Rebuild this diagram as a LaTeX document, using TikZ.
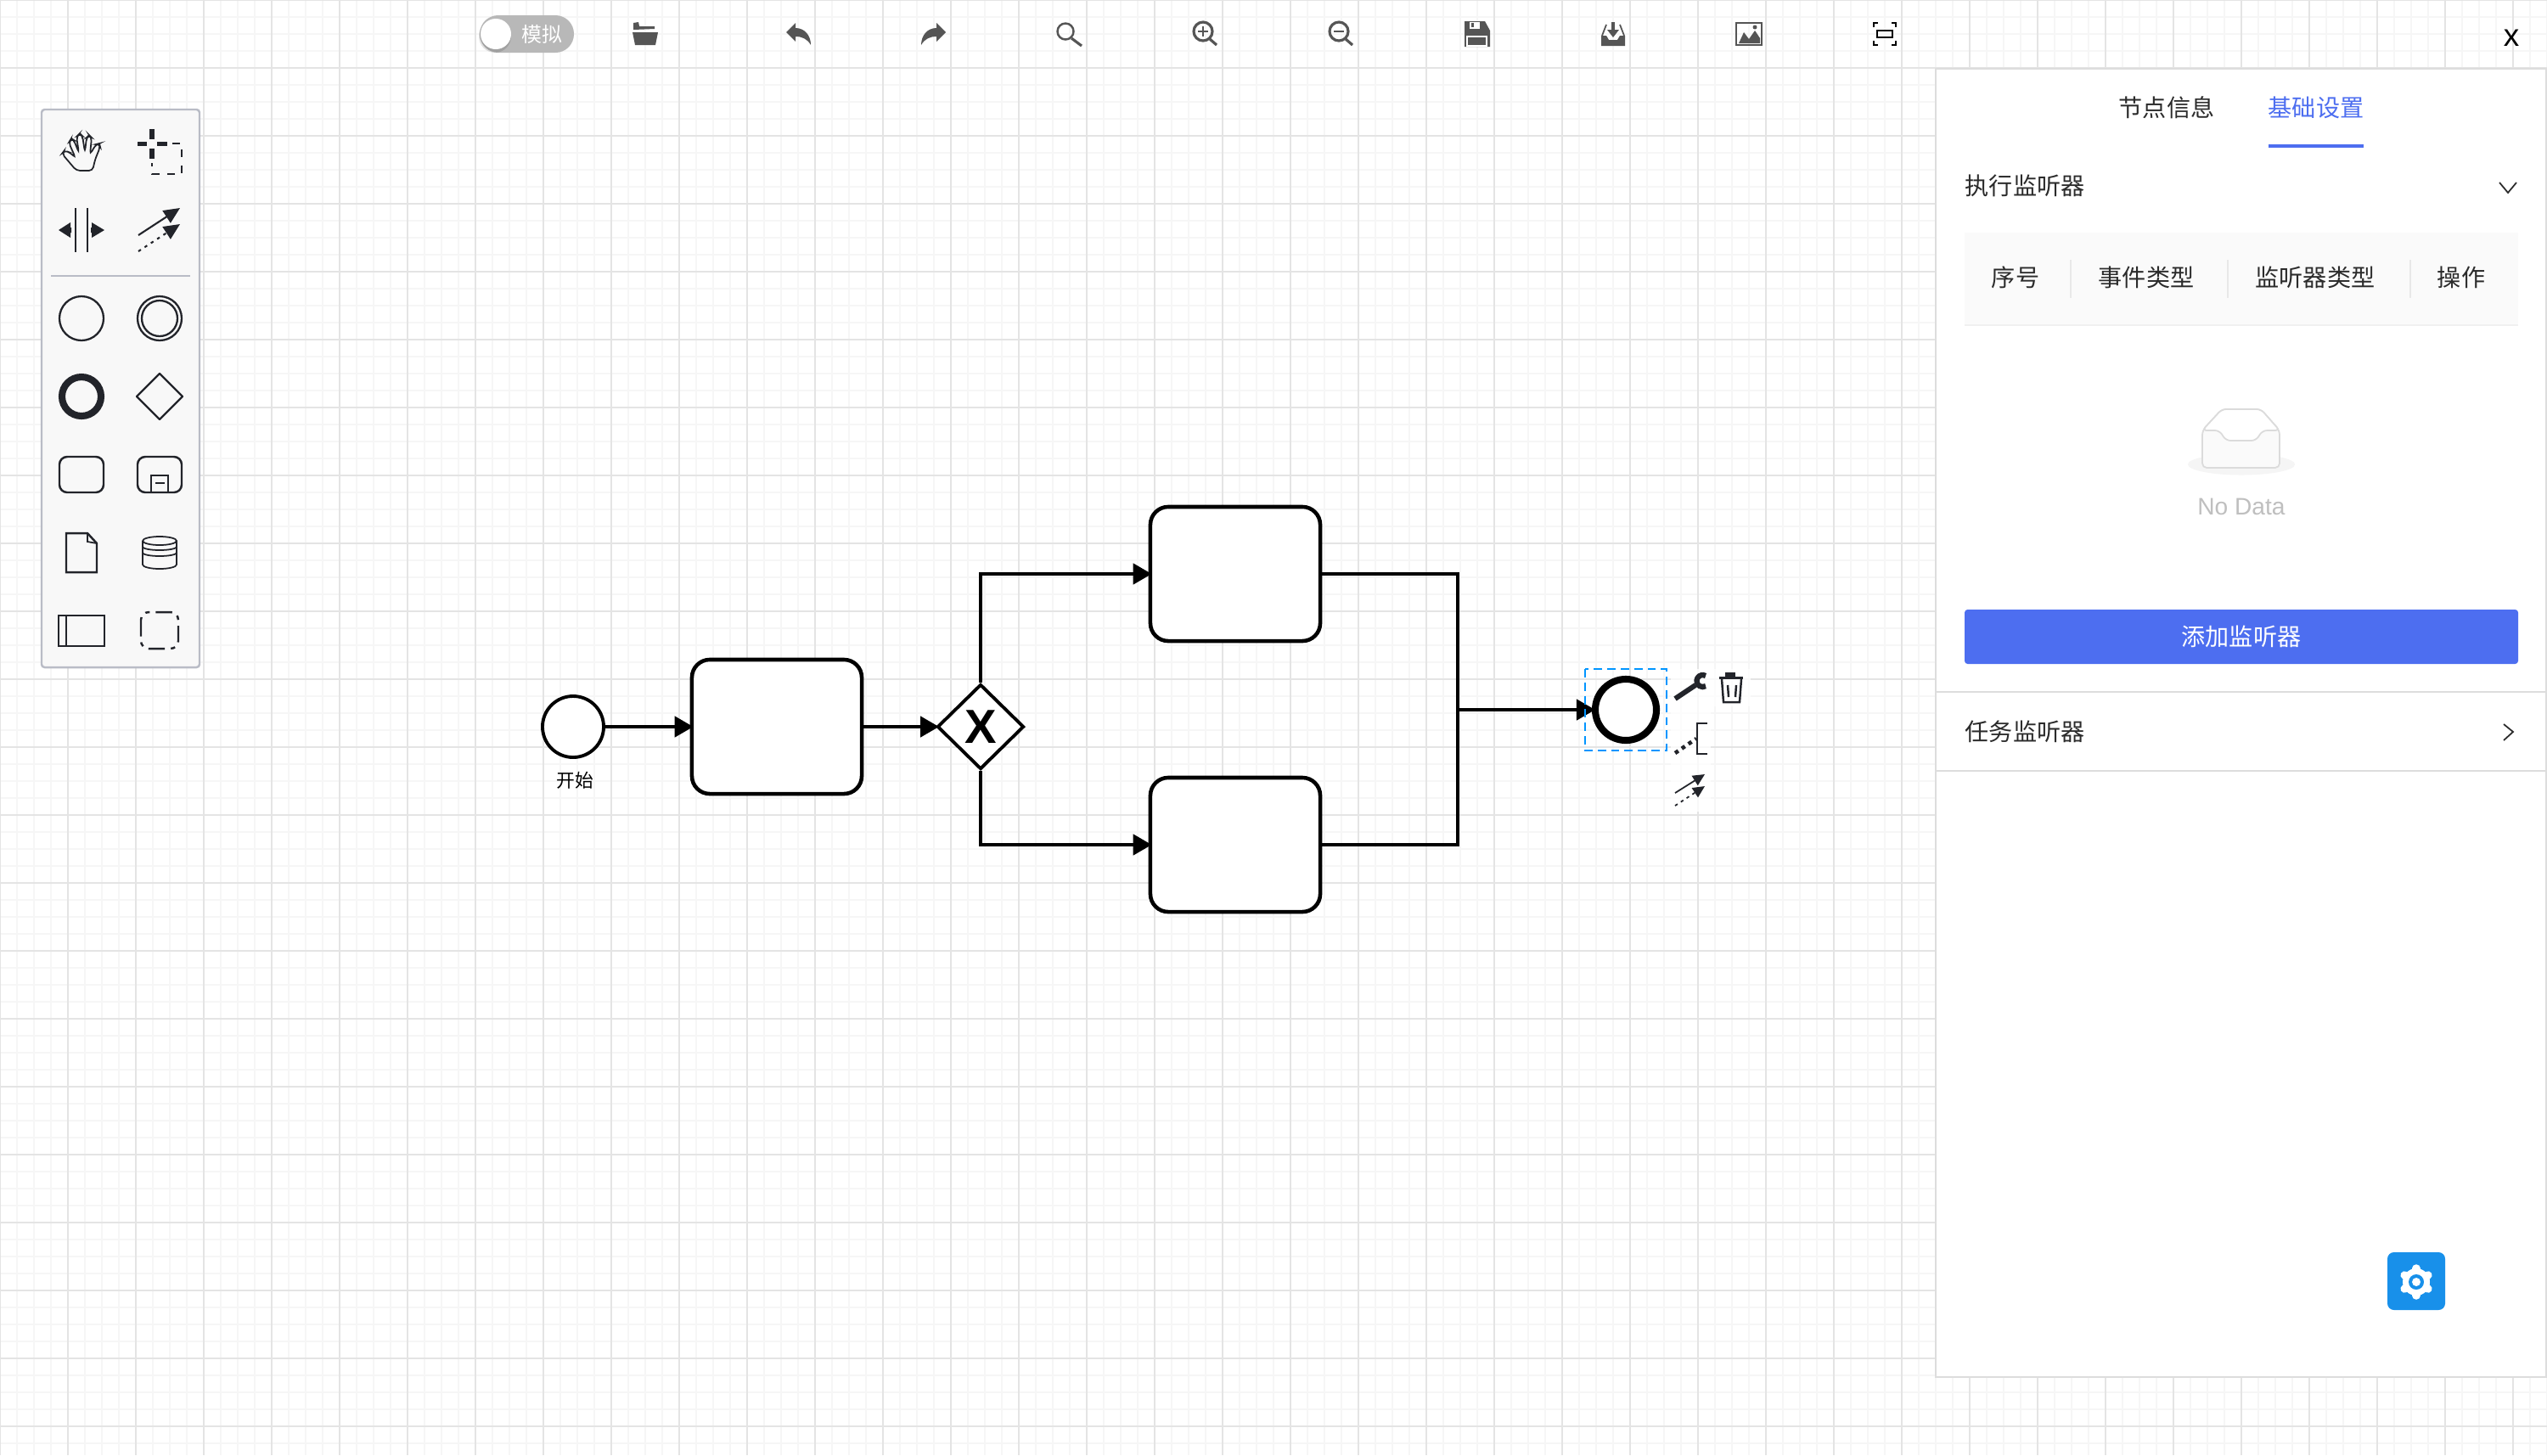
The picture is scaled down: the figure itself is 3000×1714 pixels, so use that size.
\documentclass[tikz,border=0pt]{standalone}
\usepackage{fontspec}
\setmainfont{Liberation Sans}
\newfontfamily\cjk{Noto Sans CJK SC}
\usetikzlibrary{arrows.meta,shapes.geometric}

\definecolor{gridminor}{HTML}{F6F6F6}
\definecolor{gridmajor}{HTML}{E4E4E4}
\definecolor{panelline}{HTML}{DDDDDD}
\definecolor{palettefill}{HTML}{F8F8F8}
\definecolor{paletteline}{HTML}{B9BCC6}
\definecolor{ink}{HTML}{22242A}
\definecolor{toolgrey}{HTML}{555555}
\definecolor{accent}{HTML}{4D6EF0}
\definecolor{gearblue}{HTML}{1890EA}
\definecolor{selectblue}{HTML}{0095FF}
\definecolor{textdark}{HTML}{2B2B2B}

\tikzset{
    task/.style={draw=black,fill=white,line width=1.3pt,rounded corners=6pt,minimum width=2cm,minimum height=1.58cm,inner sep=0pt},
    startevent/.style={circle,draw=black,fill=white,line width=1.1pt,minimum size=.72cm,inner sep=0pt},
    endevent/.style={circle,draw=black,fill=white,line width=2.3pt,minimum size=.72cm,inner sep=0pt},
    gateway/.style={diamond,draw=black,fill=white,line width=1.1pt,minimum width=1.02cm,minimum height=1cm,inner sep=0pt},
    flow/.style={draw=black,line width=1.3pt,shorten >=-.4mm,-{Triangle[length=2.2mm,width=2.4mm]}},
    plainflow/.style={draw=black,line width=1.3pt},
    cnlabel/.style={font=\cjk\fontsize{8}{10}\selectfont,text=textdark,inner sep=0pt},
    icon/.style={draw=ink,line width=.65pt},
    tool/.style={fill=toolgrey},
    toolline/.style={draw=toolgrey,line width=.7pt}
}

\begin{document}
\begin{tikzpicture}[x=.01cm,y=-.01cm]

    \useasboundingbox (0,0) rectangle (3000,1714);
    \fill[white] (0,0) rectangle (3000,1714);

    % these are the grid lines
    \foreach \gx in {0,20,...,3000} \draw[gridminor,line width=.45pt] (\gx,0) -- (\gx,1714);
    \foreach \gy in {0,20,...,1700} \draw[gridminor,line width=.45pt] (0,\gy) -- (3000,\gy);
    \foreach \gx in {0,80,...,3000} \draw[gridmajor,line width=.45pt] (\gx,0) -- (\gx,1714);
    \foreach \gy in {0,80,...,1700} \draw[gridmajor,line width=.45pt] (0,\gy) -- (3000,\gy);

    % these are the top tools
    \fill[white!72!black,rounded corners=6.2pt] (565,18) rectangle (676,62);
    \fill[black,opacity=.12] (583,43) circle (19);
    \fill[white] (584,40) circle (18);
    \node[cnlabel,text=white,font=\cjk\fontsize{6.8}{8}\selectfont] (simlabel) at (638,40) {模拟};

    \fill[tool] (746,35) -- (746,27) -- (752,26) -- (753,31) -- (771,31) -- (771,34) -- cycle;
    \fill[tool] (745,38) -- (775,38) -- (772,53) -- (748,53) -- cycle;

    \fill[tool] (926,38) -- (937,27) -- (937,33) .. controls (948,33) and (955,42) .. (955,53) .. controls (951,46) and (945,43) .. (937,43) -- (937,49) -- cycle;
    \fill[tool] (1114,38) -- (1103,27) -- (1103,33) .. controls (1092,33) and (1085,42) .. (1085,53) .. controls (1089,46) and (1095,43) .. (1103,43) -- (1103,49) -- cycle;

    \draw[toolline] (1255,37) circle (9.5);
    \draw[toolline,line width=.9pt] (1262,45) -- (1274,54);

    \draw[toolline,line width=.9pt] (1417,37) circle (11);
    \draw[toolline,line width=.9pt] (1425,46) -- (1433,53);
    \draw[toolline] (1411,37) -- (1423,37);
    \draw[toolline] (1417,31) -- (1417,43);

    \draw[toolline,line width=.9pt] (1577,37) circle (11);
    \draw[toolline,line width=.9pt] (1585,46) -- (1593,53);
    \draw[toolline] (1571,37) -- (1583,37);

    \fill[tool] (1725,25) -- (1749,25) -- (1755,36) -- (1755,55) -- (1725,55) -- cycle;
    \fill[white] (1731,26) rectangle (1743,34);
    \fill[tool] (1733,27) rectangle (1736,32);
    \draw[white,fill=toolgrey,line width=.5pt] (1728,43) rectangle (1751,54);

    \fill[tool] (1886,42) -- (1892,42) -- (1895,47) -- (1905,47) -- (1908,42) -- (1914,42) -- (1914,54) -- (1886,54) -- cycle;
    \draw[toolline,line width=.5pt] (1892,29) -- (1887,42);
    \draw[toolline,line width=.5pt] (1908,29) -- (1913,42);
    \fill[tool] (1898,26) rectangle (1902,36);
    \fill[tool] (1893,35) -- (1907,35) -- (1900,44) -- cycle;

    \draw[toolline] (2045,27) rectangle (2075,53);
    \fill[tool] (2048,51) -- (2054,38) -- (2060,46) -- (2067,36) -- (2073,45) -- (2073,51) -- cycle;
    \fill[tool] (2067,32) circle (2.5);

    \draw[black,line width=.5pt] (2207,32) -- (2207,27) -- (2212,27);
    \draw[black,line width=.5pt] (2228,27) -- (2233,27) -- (2233,32);
    \draw[black,line width=.5pt] (2207,48) -- (2207,53) -- (2212,53);
    \draw[black,line width=.5pt] (2228,53) -- (2233,53) -- (2233,48);
    \draw[black,line width=.6pt] (2211,36) rectangle (2229,44);

    \node[inner sep=0pt,font=\fontsize{10.5}{12}\selectfont] (closemark) at (2958,45) {x};

    % this is the palette
    \draw[paletteline,fill=palettefill,line width=.7pt,rounded corners=1pt] (49,129) rectangle (235,786);
    \draw[paletteline,line width=.55pt] (60,325) -- (224,325);

    \draw[icon,line width=.5pt,rounded corners=1.2pt] (90,201) -- (73,181) -- (76,177) -- (83,180) -- (89,186) -- (81,168) -- (84,163) -- (87,165) -- (93,180) -- (90,161) -- (94,157) -- (97,160) -- (100,179) -- (102,162) -- (105,159) -- (108,162) -- (106,182) -- (113,170) -- (117,169) -- (118,173) -- (112,188) -- (109,201) -- cycle;

    \fill[ink] (176,152) rectangle (182,164);
    \fill[ink] (176,175) rectangle (182,187);
    \fill[ink] (162,167) rectangle (173,172);
    \fill[ink] (185,167) rectangle (197,172);
    \draw[ink,line width=.75pt,dash pattern=on 2.6pt off 2.6pt] (203,169) -- (214,169) -- (214,205) -- (179,205) -- (179,192);

    \draw[ink,line width=.7pt] (89,245) -- (89,297);
    \draw[ink,line width=.7pt] (103,245) -- (103,297);
    \fill[ink] (69,271) -- (83,262) -- (83,268) -- (84,268) -- (84,274) -- (83,274) -- (83,280) -- cycle;
    \fill[ink] (123,271) -- (108,262) -- (108,268) -- (107,268) -- (107,274) -- (108,274) -- (108,280) -- cycle;

    \coordinate (palsolidstart) at (163,277);
    \coordinate (palsolidend) at (212,245);
    \coordinate (paldotstart) at (163,296);
    \coordinate (paldotend) at (212,264);
    \draw[ink,line width=.6pt,-{Triangle[length=1.9mm,width=1.7mm]}] (palsolidstart) -- (palsolidend);
    \draw[ink,line width=.6pt,dash pattern=on 1pt off 1.5pt,-{Triangle[length=1.9mm,width=1.7mm]}] (paldotstart) -- (paldotend);

    \draw[icon] (96,375) circle (26);
    \draw[icon] (188,375) circle (26);
    \draw[icon] (188,375) circle (21);
    \draw[ink,line width=2.3pt] (96,467) circle (23);
    \draw[icon,line join=round] (161,467) -- (188,440) -- (215,467) -- (188,494) -- cycle;

    \draw[icon,line width=.7pt,rounded corners=2.6pt] (70,538) rectangle (122,580);
    \draw[icon,line width=.7pt,rounded corners=2.6pt] (162,538) rectangle (214,580);
    \draw[icon,line width=.5pt] (178,580) -- (178,560) -- (198,560) -- (198,580);
    \draw[icon,line width=.7pt] (183,569) -- (194,569);

    \draw[icon,line width=.7pt] (78,628) -- (103,628) -- (114,640) -- (114,674) -- (78,674) -- cycle;
    \draw[icon,line width=.5pt] (103,628) -- (103,638) -- (114,640);

    \draw[icon,line width=.5pt] (168,637) arc[start angle=180,end angle=-180,x radius=20,y radius=5];
    \draw[icon,line width=.5pt] (168,637) -- (168,665) arc[start angle=180,end angle=0,x radius=20,y radius=5] -- (208,637);
    \draw[icon,line width=.5pt] (168,644) arc[start angle=180,end angle=0,x radius=20,y radius=4];
    \draw[icon,line width=.5pt] (168,651) arc[start angle=180,end angle=0,x radius=20,y radius=4];

    \draw[icon,line width=.7pt] (69,725) rectangle (123,761);
    \draw[icon,line width=.6pt] (78,725) -- (78,761);

    \draw[icon,line width=.7pt,rounded corners=2.6pt,dash pattern=on 5.5pt off 2pt on 1.5pt off 2pt] (166,721) rectangle (210,764);

    % these are the diagram nodes
    \node[startevent] (startnode) at (675,856) {};
    \node[cnlabel,text=black,font=\cjk\fontsize{6.2}{8}\selectfont] (startlabel) at (677,919) {开始};
    \node[task] (taska) at (915,856) {};
    \node[gateway] (gatenode) at (1155,856) {};
    \node[inner sep=0pt,font=\bfseries\fontsize{16}{18}\selectfont] (gatemark) at (gatenode) {X};
    \node[task] (taskb) at (1455,676) {};
    \node[task] (taskc) at (1455,995) {};
    \node[endevent] (endnode) at (1915,836) {};
    \coordinate (joinpoint) at (1717,836);

    % these are the flows
    \draw[flow] (startnode) -- (taska);
    \draw[flow] (taska) -- (gatenode);
    \draw[flow] (gatenode.north) |- (taskb.west);
    \draw[flow] (gatenode.south) |- (taskc.west);
    \draw[plainflow] (taskb.east) -| (joinpoint);
    \draw[plainflow] (taskc.east) -| (joinpoint);
    \draw[flow] (joinpoint) -- (endnode.west);

    % this is the selection and what hangs on it
    \draw[selectblue,line width=.8pt,dash pattern=on 2.8pt off 1.7pt] (1867,788) rectangle (1963,884);
    \fill[white,opacity=.75] (1968,788) rectangle (2062,832);
    \fill[white,opacity=.75] (1968,832) rectangle (2015,956);

    \draw[ink,line width=1.7pt] (1973,823) -- (1997,807);
    \draw[ink,line width=1.8pt] (2009,796) arc[start angle=-60,end angle=-300,radius=7];
    \fill[ink] (2025,797) rectangle (2053,800);
    \fill[ink] (2032,792) rectangle (2044,798);
    \draw[ink,line width=.7pt] (2028,800) -- (2030,827) -- (2049,827) -- (2051,800);
    \draw[ink,line width=.7pt] (2035,807) -- (2036,821);
    \draw[ink,line width=.7pt] (2045,807) -- (2044,821);

    \draw[ink,line width=1.3pt,dash pattern=on 1.3pt off 1.4pt] (1973,887) -- (1998,870);
    \draw[ink,line width=.55pt] (2011,852) -- (1999,852) -- (1999,888) -- (2011,888);

    \coordinate (padsolidstart) at (1973,934);
    \coordinate (padsolidend) at (2008,912);
    \coordinate (paddotstart) at (1973,949);
    \coordinate (paddotend) at (2008,926);
    \draw[ink,line width=.5pt,-{Triangle[length=1.4mm,width=1.3mm]}] (padsolidstart) -- (padsolidend);
    \draw[ink,line width=.5pt,dash pattern=on 1pt off 1.3pt,-{Triangle[length=1.4mm,width=1.3mm]}] (paddotstart) -- (paddotend);

    % this is the right panel
    \draw[panelline,fill=white,line width=.7pt] (2280,81) -- (2999,81) -- (2999,1622) -- (2280,1622) -- cycle;

    \node[cnlabel] (tabinfo) at (2552,127) {节点信息};
    \node[cnlabel,text=accent] (tabbase) at (2728,127) {基础设置};
    \fill[accent] (2672,170) rectangle (2784,174);

    \node[cnlabel,anchor=west] (execlabel) at (2314,219) {执行监听器};
    \draw[textdark,line width=.5pt] (2944,215) -- (2954,227) -- (2964,215);

    \fill[black!2] (2314,274) rectangle (2966,382);
    \draw[black!6,line width=.55pt] (2314,383) -- (2966,383);
    \foreach \dx in {2439,2624,2839} \draw[black!9,line width=.45pt] (\dx,306) -- (\dx,351);
    \node[cnlabel] (headno) at (2374,327) {序号};
    \node[cnlabel] (headevent) at (2528,327) {事件类型};
    \node[cnlabel] (headlistener) at (2727,327) {监听器类型};
    \node[cnlabel] (headaction) at (2899,327) {操作};

    \fill[black!4] (2640,547) ellipse (63 and 12.5);
    \draw[black!14,fill=black!2,line width=.5pt,rounded corners=1.5pt] (2594,507) -- (2617,482) -- (2663,482) -- (2685,507) -- (2685,551) -- (2594,551) -- cycle;
    \draw[black!14,fill=white,line width=.5pt,rounded corners=1.5pt] (2594,507) -- (2617,482) -- (2663,482) -- (2685,507) -- (2665,507) -- (2657,519) -- (2622,519) -- (2614,507) -- cycle;
    \node[inner sep=0pt,text=black!25,font=\fontsize{8}{10}\selectfont] (nodata) at (2640,597) {No Data};

    \fill[accent,rounded corners=1pt] (2314,718) rectangle (2966,782);
    \node[cnlabel,text=white] (addbutton) at (2640,750) {添加监听器};

    \draw[panelline,line width=.6pt] (2280,815) -- (2999,815);
    \node[cnlabel,anchor=west] (tasklabel) at (2314,862) {任务监听器};
    \draw[textdark,line width=.5pt] (2949,853) -- (2960,862) -- (2949,872);
    \draw[panelline,line width=.6pt] (2280,908) -- (2999,908);

    % this is the gear button
    \fill[gearblue,rounded corners=2.2pt] (2812,1475) rectangle (2880,1543);
    \foreach \ang in {30,90,...,330} \draw[white,line width=2.7pt,line cap=round] (2846,1510) -- ++(\ang:16);
    \fill[white] (2846,1510) circle (16);
    \fill[gearblue] (2846,1510) circle (9);
    \fill[white] (2846,1510) circle (5);

\end{tikzpicture}
\end{document}
